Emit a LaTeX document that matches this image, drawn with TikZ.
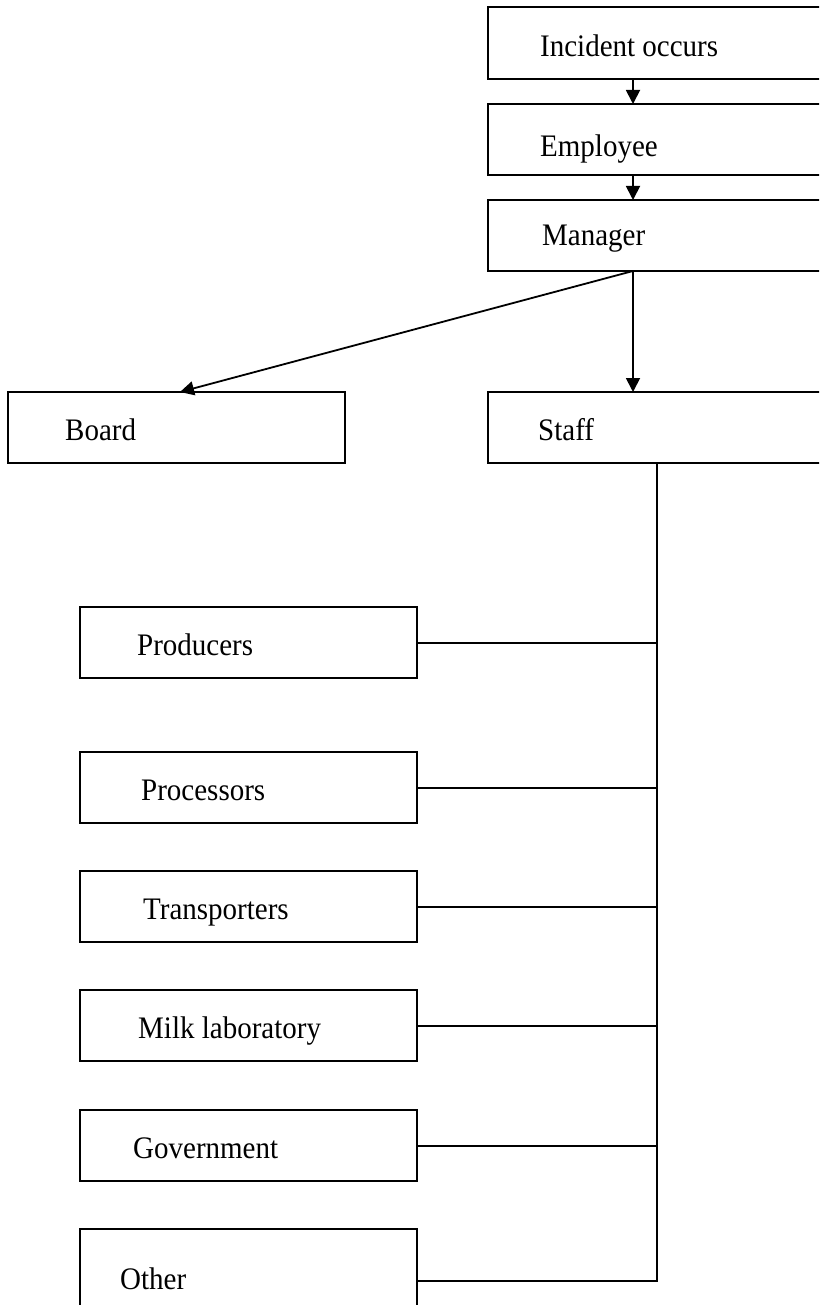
\documentclass[tikz,border=0pt]{standalone}
\usepackage{fontspec}
\setmainfont{Liberation Serif}
\usetikzlibrary{arrows.meta,calc}
\newcommand{\tallt}[1]{\scalebox{1}[1.08]{#1}}
\begin{document}
\begin{tikzpicture}[x=1pt,y=-1pt,
 box/.style={draw,line width=1.8pt,minimum width=337pt,minimum height=71pt,anchor=north west,inner sep=0pt,outer sep=0pt},
 rbox/.style={box,minimum width=345pt},
 lbl/.style={anchor=base west,inner sep=0pt,font=\fontsize{29}{34}\selectfont},
 conn/.style={line width=2pt},
 arr/.style={line width=1.8pt,-{Triangle[length=14pt,width=14pt]}}]
\useasboundingbox (0,0) rectangle (819,1305);
\clip (0,0) rectangle (819,1305);
\fill[white] (0,0) rectangle (819,1305);
% boxes
\node[rbox,minimum height=72pt] (inc) at (488,7) {};
\node[rbox] (emp) at (488,104) {};
\node[rbox] (man) at (488,200) {};
\node[box] (board) at (8,392) {};
\node[rbox] (staff) at (488,392) {};
\node[box] (prod) at (80,607) {};
\node[box] (proc) at (80,752) {};
\node[box] (trans) at (80,871) {};
\node[box] (milk) at (80,990) {};
\node[box] (gov) at (80,1110) {};
\node[box,minimum height=104pt] (oth) at (80,1229) {};
% labels
\node[lbl] (tinc) at (540,57) {\tallt{Incident occurs}};
\node[lbl] (temp) at (540,157) {\tallt{Employee}};
\node[lbl] (tman) at (542,246) {\tallt{Manager}};
\node[lbl] (tboard) at (65,440) {\tallt{Board}};
\node[lbl] (tstaff) at (538,440) {\tallt{Staff}};
\node[lbl] (tprod) at (137,655) {\tallt{Producers}};
\node[lbl] (tproc) at (141,800) {\tallt{Processors}};
\node[lbl] (ttrans) at (143,919) {\tallt{Transporters}};
\node[lbl] (tmilk) at (138,1038) {\tallt{Milk laboratory}};
\node[lbl] (tgov) at (133,1158) {\tallt{Government}};
\node[lbl] (toth) at (120,1289) {\tallt{Other}};
% connectors
\coordinate (ax) at (633,0);
\coordinate (vx) at (657,0);
\draw[arr] (inc.south -| ax) -- (emp.north -| ax);
\draw[arr] (emp.south -| ax) -- (man.north -| ax);
\draw[arr] (man.south -| ax) -- (staff.north -| ax);
\draw[arr] (man.south -| ax) -- ($(board.north west)+(172,0)$);
\draw[conn] (staff.south -| vx) |- (oth.east);
\draw[conn] (prod.east) -- (prod.east -| vx);
\draw[conn] (proc.east) -- (proc.east -| vx);
\draw[conn] (trans.east) -- (trans.east -| vx);
\draw[conn] (milk.east) -- (milk.east -| vx);
\draw[conn] (gov.east) -- (gov.east -| vx);
\end{tikzpicture}
\end{document}
